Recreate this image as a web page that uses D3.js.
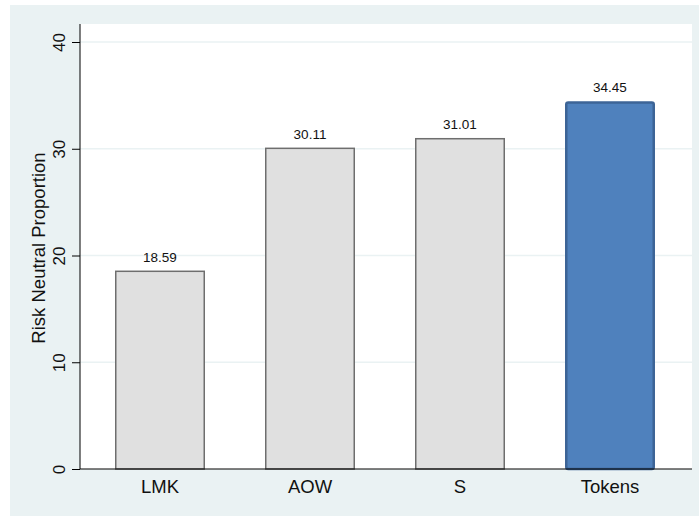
<!DOCTYPE html>
<html><head><meta charset="utf-8">
<script src="https://cdn.jsdelivr.net/npm/d3@7"></script>
<style>body{margin:0;background:#fff}text{font-family:"Liberation Sans",Arial,sans-serif}</style>
</head><body>
<svg id="c" width="699" height="518"></svg>
<script>
const categories = ["LMK","AOW","S","Tokens"];
const values = [18.59, 30.11, 31.01, 34.45];
const yTicks = [0,10,20,30,40];
const yTitle = "Risk Neutral Proportion";

const svg = d3.select("#c");
svg.append("rect").attr("x",10).attr("y",5).attr("width",689).attr("height",511).attr("fill","#EAF2F3");
const L=80, R=692, T=24, B=469;
svg.append("rect").attr("x",L).attr("y",T).attr("width",R-L).attr("height",B-T).attr("fill","#fff");

const y = d3.scaleLinear().domain([0,40]).range([B,42]);
const x = d3.scaleBand().domain(categories).range([85,685]).paddingInner(0.4).paddingOuter(0.2);

// gridlines
svg.append("g").selectAll("line").data(yTicks.filter(d=>d>0)).join("line")
  .attr("x1",L).attr("x2",R).attr("y1",d=>y(d)).attr("y2",d=>y(d))
  .attr("stroke","#EAF2F3").attr("stroke-width",1.5);

// bars
svg.append("g").selectAll("rect").data(categories).join("rect")
  .attr("x",(d,i)=> x(d) + (i===3?1.25:0.75))
  .attr("y",(d,i)=> y(values[i]) + (i===3?1.25:0.75))
  .attr("width",(d,i)=> x.bandwidth() - (i===3?2.5:1.5))
  .attr("height",(d,i)=> y(0)-y(values[i]) - (i===3?1.25:0.75))
  .attr("rx",(d,i)=> i===3?2:0)
  .attr("fill",(d,i)=> i===3?"#4F81BD":"#E0E0E0")
  .attr("stroke",(d,i)=> i===3?"#3D6496":"#6E6E6E")
  .attr("stroke-width",(d,i)=> i===3?2.5:1.5);

// value labels
svg.append("g").selectAll("text").data(categories).join("text")
  .attr("x",d=>x(d)+x.bandwidth()/2).attr("y",(d,i)=>y(values[i])-9)
  .attr("text-anchor","middle").attr("font-size",13.5).attr("fill","#111")
  .text((d,i)=>values[i].toFixed(2));

// axes
const ya = svg.append("g").attr("transform",`translate(${L},0)`)
  .call(d3.axisLeft(y).tickValues(yTicks).tickSize(8));
ya.select(".domain").attr("d",`M0,${T}V${B}`).attr("stroke","#000");
ya.selectAll(".tick line").attr("stroke","#000");
ya.selectAll(".tick text").attr("font-size",17).attr("fill","#111")
  .attr("text-anchor","middle").attr("x",0).attr("y",0).attr("dy",0)
  .attr("transform","translate(-15,0) rotate(-90)");

const xa = svg.append("g").attr("transform",`translate(0,${B})`)
  .call(d3.axisBottom(x).tickSize(0).tickPadding(11));
xa.select(".domain").attr("d",`M${L},0H${R}`).attr("stroke","#000");
xa.selectAll(".tick text").attr("font-size",18.5).attr("fill","#111");

svg.append("text").attr("transform",`translate(45,248) rotate(-90)`)
  .attr("text-anchor","middle").attr("font-size",18.5).attr("fill","#111").text(yTitle);
</script>
</body></html>
